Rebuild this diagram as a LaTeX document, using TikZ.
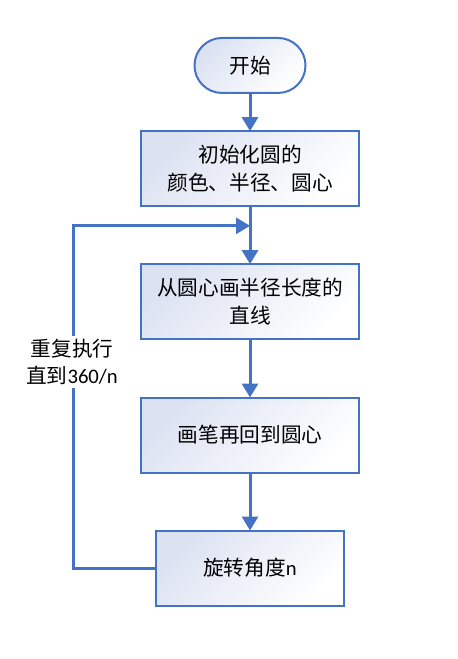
\documentclass[tikz,border=0pt]{standalone}
\usepackage{fontspec}
\usepackage{tikz}
\setmainfont{Carlito}
\newfontfamily\cjk{Noto Sans CJK SC}
\usetikzlibrary{arrows.meta, positioning, calc}
\definecolor{flowblue}{RGB}{68, 114, 196}
\definecolor{boxfill}{RGB}{220, 226, 242}

\begin{document}
\begin{tikzpicture}[
    font=\fontsize{15.5}{20.5}\selectfont\cjk,
    startbox/.style={draw=flowblue, line width=1.5pt, outer sep=0pt, rounded corners=20.6pt, minimum width=83.25pt, minimum height=41.25pt, top color=boxfill, bottom color=white, shading angle=45},
    procbox/.style={draw=flowblue, line width=1.5pt, outer sep=0pt, minimum width=163.5pt, minimum height=56.25pt, align=center, top color=boxfill, bottom color=white, shading angle=45},
    flow/.style={draw=flowblue, line width=2.25pt, -{Triangle[length=10.5pt, width=12pt]}}
]
    \useasboundingbox (0,0) rectangle (342.75pt,-494.25pt);
    % flow boxes
    \node[startbox] (start) at (187.5pt,-49.1pt) {开始};
    \node[procbox, below=28.6pt of start] (init) {初始化圆的\\颜色、半径、圆心};
    \node[procbox, below=43.5pt of init] (radius) {从圆心画半径长度的\\直线};
    \node[procbox, below=43.8pt of radius] (back) {画笔再回到圆心};
    \node[procbox, minimum width=141pt, below=43.5pt of back] (turn) {旋转角度{\rmfamily n}};
    \coordinate (merge) at ($(init.south)!0.34!(radius.north)$);

    % connectors
    \draw[flow] (start) -- (init);
    \draw[flow] (init) -- (radius);
    \draw[flow] (radius) -- (back);
    \draw[flow] (back) -- (turn);
    \draw[flow] (turn.west) -- ++(-62.2pt,0) |- (merge);
    \node[fill=white, align=center, inner sep=2pt] (repeat) at (54pt,-271.5pt) {重复执行\\直到{\rmfamily 360/n}};
\end{tikzpicture}
\end{document}
